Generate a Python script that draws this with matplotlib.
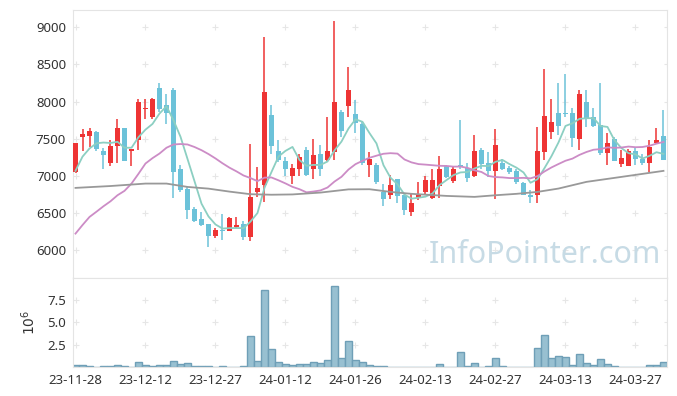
import numpy as np
import matplotlib
matplotlib.use("Agg")
import matplotlib.pyplot as plt

plt.rcParams['font.family'] = ['Noto Sans', 'DejaVu Sans']

# daily candles, 23-11-28 .. 24-04-02 (85 trading days)
opens = [7060, 7530, 7540, 7590, 7330, 7180, 7410, 7640, 7340, 7490,
         7900, 7790, 8190, 7960, 8160, 7100, 6820, 6550, 6420, 6360,
         6190, 6280, 6265, 6320, 6360, 6185, 6780, 6880, 7820, 7330,
         7200, 7000, 7095, 7345, 7095, 7290, 7220, 7325, 7860, 7940,
         7840, 7700, 7150, 7145, 6785, 6740, 6965, 6740, 6515, 6705,
         6780, 6700, 6865, 7135, 6935, 7145, 7110, 7000, 7345, 7170,
         7070, 7180, 7105, 7065, 6900, 6740, 6740, 7325, 7595, 7850,
         7835, 7850, 7495, 7995, 7800, 7685, 7315, 7495, 7155, 7140,
         7335, 7230, 7180, 7450, 7540]
highs = [7440, 7630, 7650, 7600, 7370, 7490, 7765, 7650, 7365, 8030,
         8040, 8048, 8250, 8097, 8187, 7145, 6853, 6584, 6512, 6359,
         6305, 6490, 6450, 6450, 6390, 7425, 7125, 8865, 7949, 7482,
         7257, 7168, 7302, 7390, 7504, 7415, 7796, 9090, 7886, 8461,
         8021, 7729, 7325, 7181, 6898, 7019, 6966, 6745, 6763, 6921,
         6997, 7100, 7266, 7150, 7134, 7751, 7177, 7549, 7370, 7325,
         7630, 7222, 7136, 7100, 6921, 6810, 7662, 8435, 8032, 8245,
         8370, 7910, 8157, 8157, 7920, 8247, 7582, 7520, 7350, 7360,
         7394, 7290, 7484, 7640, 7888]
lows = [7040, 7330, 7390, 7340, 7100, 7140, 7180, 7200, 7140, 7355,
        7760, 7765, 7864, 7693, 6710, 6785, 6427, 6382, 6328, 6045,
        6160, 6140, 6255, 6300, 6140, 6130, 6720, 6650, 7302, 7190,
        7001, 6898, 7001, 7000, 6957, 7000, 7199, 7213, 7527, 7796,
        7572, 7145, 6988, 6898, 6597, 6696, 6642, 6480, 6463, 6674,
        6741, 6696, 6710, 6975, 6900, 7100, 6921, 6988, 7100, 6988,
        6696, 7078, 7033, 6898, 6741, 6640, 6633, 7216, 7494, 7549,
        7800, 7394, 7350, 7663, 7660, 7282, 7148, 7200, 7125, 7135,
        7148, 7150, 7050, 7440, 7215]
closes = [7440, 7570, 7600, 7360, 7280, 7410, 7650, 7200, 7360, 7990,
          7920, 8030, 7900, 7850, 7050, 6810, 6540, 6400, 6340, 6190,
          6270, 6265, 6430, 6345, 6180, 6715, 6840, 8130, 7405, 7220,
          7095, 7105, 7250, 7015, 7280, 7095, 7335, 7995, 7610, 8155,
          7715, 7170, 7235, 6915, 6690, 6875, 6730, 6540, 6640, 6755,
          6945, 6945, 7100, 6980, 7090, 7125, 6975, 7335, 7160, 7070,
          7415, 7100, 7055, 6920, 6750, 6720, 7335, 7805, 7725, 7670,
          7830, 7515, 8105, 7765, 7675, 7305, 7450, 7205, 7240, 7335,
          7225, 7170, 7385, 7485, 7220]
# volume in millions
volume = [0.22, 0.22, 0.10, 0.0, 0.10, 0.10, 0.22, 0.10, 0.0, 0.60,
          0.22, 0.10, 0.22, 0.22, 0.70, 0.33, 0.44, 0.10, 0.10, 0.10,
          0.0, 0.10, 0.0, 0.0, 0.10, 3.44, 0.67, 8.56, 2.00, 0.56,
          0.33, 0.22, 0.33, 0.33, 0.56, 0.44, 0.78, 9.00, 1.07, 2.90,
          0.78, 0.56, 0.30, 0.19, 0.19, 0.07, 0.07, 0.07, 0.07, 0.07,
          0.07, 0.07, 0.40, 0.07, 0.07, 1.74, 0.19, 0.52, 0.07, 0.19,
          1.07, 0.19, 0.07, 0.07, 0.07, 0.07, 2.19, 3.63, 1.07, 1.30,
          1.19, 0.30, 1.52, 0.52, 0.30, 0.96, 0.41, 0.19, 0.07, 0.07,
          0.07, 0.07, 0.30, 0.30, 0.63]

# moving averages
ma5 = [7070, 7260, 7370, 7440,
       7450, 7444, 7460, 7380, 7380, 7522, 7624, 7700, 7840, 7938,
       7750, 7528, 7230, 6930, 6628, 6456, 6348, 6293, 6299, 6300,
       6298, 6387, 6502, 6842, 7054, 7262, 7338, 7391, 7215, 7137,
       7149, 7149, 7195, 7344, 7463, 7638, 7762, 7729, 7577, 7438,
       7145, 6977, 6889, 6750, 6695, 6708, 6722, 6765, 6877, 6945,
       7012, 7048, 7054, 7101, 7137, 7133, 7191, 7216, 7160, 7112,
       7048, 6909, 6956, 7106, 7267, 7451, 7673, 7709, 7769, 7777,
       7778, 7673, 7660, 7480, 7375, 7307, 7291, 7235, 7271, 7320,
       7297]
ma20 = [6225, 6340, 6449, 6520, 6593, 6660, 6741, 6800, 6898, 7030,
        7168, 7240, 7302, 7380, 7424, 7430, 7424, 7390, 7347,
        7295, 7236, 7171, 7112, 7062, 7007, 6972, 6931, 6978, 6980,
        6942, 6900, 6854, 6822, 6780, 6791, 6806, 6845, 6925, 6989,
        7087, 7159, 7204, 7245, 7273, 7299, 7307, 7301, 7222, 7183,
        7160, 7153, 7145, 7137, 7135, 7126, 7127, 7109, 7076, 7054,
        7000, 6985, 6981, 6972, 6972, 6975, 6968, 6998, 7061, 7115,
        7161, 7205, 7234, 7284, 7323, 7353, 7362, 7385, 7379, 7383,
        7396, 7387, 7390, 7407, 7435, 7458]
ma60_idx = [0, 5, 10, 13, 16, 19, 22, 25, 28, 31, 35, 39, 42, 45, 48,
            53, 57, 60, 63, 66, 69, 73, 78, 84]
ma60 = [6840, 6865, 6898, 6898, 6853, 6830, 6790, 6755, 6748, 6752, 6777,
        6820, 6822, 6786, 6760, 6732, 6719, 6741, 6760, 6786, 6831, 6921,
        6988, 7069]

tick_pos = [0, 10, 20, 30, 40, 50, 60, 70, 80]
tick_labels = ['23-11-28', '23-12-12', '23-12-27', '24-01-12', '24-01-26',
               '24-02-13', '24-02-27', '24-03-13', '24-03-27']

up_col = '#ee3434'
down_col = '#6cc2d9'
spine_col = '#e4e4e4'
text_col = '#333333'

o = np.array(opens); c = np.array(closes)
h = np.array(highs); l = np.array(lows)
x = np.arange(len(o))
up = c >= o
colors = np.where(up, up_col, down_col)

fig = plt.figure(figsize=(6.77, 3.96), dpi=100)
ax = fig.add_axes([0.1078, 0.298, 0.8774, 0.6768])
axv = fig.add_axes([0.1078, 0.0725, 0.8774, 0.2255], sharex=ax)

# candles
ax.vlines(x, l, h, colors=colors, linewidth=1.1, zorder=2)
body_low = np.minimum(o, c)
body_h = np.maximum(np.abs(c - o), 12)
ax.bar(x, body_h, bottom=body_low, width=0.66, color=colors, linewidth=0, zorder=3)

# moving averages
ax.plot(x, ma5, color='#8ccfc2', lw=1.3, zorder=4)
ax.plot(x, ma20, color='#cc8cc6', lw=1.3, zorder=4)
ax.plot(ma60_idx, ma60, color='#999999', lw=1.3, zorder=4)

ax.text(0.795, 0.085, 'InfoPointer.com', transform=ax.transAxes, fontsize=22,
        color='#c7dbe5', ha='center', va='center', zorder=1)

# volume
axv.bar(x, volume, width=1.0, color='#98c0d1', edgecolor='#6f9fb7', linewidth=1.0)

ax.set_xlim(-0.36, 84.5)
ax.set_ylim(5628, 9233)
axv.set_ylim(0, 9.92)

yt = [6000, 6500, 7000, 7500, 8000, 8500, 9000]
ax.set_yticks(yt)
axv.set_yticks([2.5, 5.0, 7.5])
axv.set_yticklabels(['2.5', '5.0', '7.5'])
axv.set_xticks(tick_pos)
axv.set_xticklabels(tick_labels)
ax.tick_params(labelbottom=False)

# grid crosses
gx, gy = np.meshgrid(tick_pos + [84.5], yt)
ax.plot(gx.ravel(), gy.ravel(), '+', color='#e6e6e6', ms=5, mew=0.8, zorder=0)
gx, gy = np.meshgrid(tick_pos + [84.5], [2.5, 5.0, 7.5])
axv.plot(gx.ravel(), gy.ravel(), '+', color='#e6e6e6', ms=5, mew=0.8, zorder=0)

for a in (ax, axv):
    for s in a.spines.values():
        s.set_color(spine_col)
    a.tick_params(length=0, labelsize=9.5, colors=text_col, pad=5)

axv.set_ylabel(r'$10^6$', color=text_col, fontsize=10, labelpad=6)

fig.savefig('out.png', dpi=100)
